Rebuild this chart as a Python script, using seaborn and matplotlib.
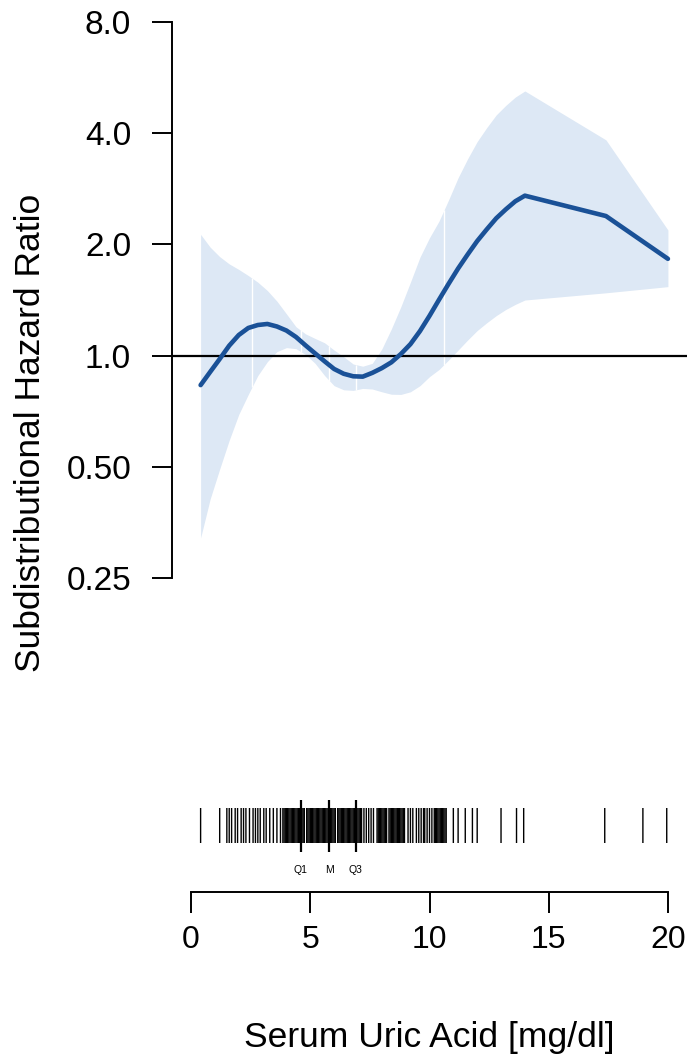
import numpy as np
import matplotlib
matplotlib.use("Agg")
import matplotlib.pyplot as plt
import seaborn as sns

sns.set_style("white")
plt.rcParams["font.family"] = ["Liberation Sans", "DejaVu Sans"]
plt.rcParams["text.color"] = "black"
plt.rcParams["axes.labelcolor"] = "black"
plt.rcParams["xtick.color"] = "black"
plt.rcParams["ytick.color"] = "black"

# Fitted subdistribution hazard ratio with 95% confidence band
uric_acid = [0.4, 0.8, 1.2, 1.6, 2.0, 2.4, 2.8, 3.2, 3.6, 4.0, 4.4, 4.8, 5.2, 5.6,
             6.0, 6.4, 6.8, 7.2, 7.6, 8.0, 8.4, 8.8, 9.2, 9.6, 10.0, 10.4, 10.8,
             11.2, 11.6, 12.0, 12.4, 12.8, 13.2, 13.6, 14.0, 17.4, 20.0]
shr = [0.832, 0.903, 0.979, 1.064, 1.137, 1.188, 1.210, 1.218, 1.199, 1.169,
       1.123, 1.066, 1.014, 0.965, 0.920, 0.893, 0.879, 0.877, 0.898, 0.925,
       0.959, 1.010, 1.074, 1.165, 1.281, 1.417, 1.564, 1.721, 1.878, 2.042,
       2.196, 2.354, 2.488, 2.617, 2.710, 2.387, 1.828]
shr_upper = [2.129, 1.966, 1.853, 1.771, 1.711, 1.647, 1.580, 1.500, 1.404, 1.297,
             1.197, 1.145, 1.113, 1.083, 1.035, 0.993, 0.949, 0.936, 0.953, 1.042,
             1.181, 1.357, 1.580, 1.847, 2.085, 2.313, 2.639, 3.031, 3.411, 3.797,
             4.141, 4.484, 4.757, 5.011, 5.205, 3.837, 2.188]
shr_lower = [0.321, 0.409, 0.493, 0.590, 0.693, 0.785, 0.883, 0.963, 1.025, 1.051,
             1.044, 1.007, 0.953, 0.883, 0.829, 0.808, 0.805, 0.815, 0.812, 0.798,
             0.786, 0.785, 0.798, 0.829, 0.877, 0.917, 0.973, 1.035, 1.102, 1.169,
             1.227, 1.283, 1.333, 1.376, 1.414, 1.479, 1.537]

# Spline knot locations (seams in the confidence band)
knots = [2.55, 4.6, 5.8, 6.9, 10.6]

# Observed serum uric acid values (rug)
rug_values = [0.4, 1.2, 1.5, 1.6, 1.7, 1.85, 1.95, 2.1, 2.2, 2.3, 2.45, 2.6, 2.7,
              2.8, 2.9, 3.05, 3.15, 3.3, 3.45, 3.6, 3.75,
              3.85, 3.9, 3.95, 4.0, 4.05, 4.1, 4.15, 4.2, 4.25, 4.3, 4.35, 4.4,
              4.45, 4.5, 4.55, 4.6, 4.65, 4.7, 4.75,
              4.85, 4.9, 4.95, 5.0, 5.05, 5.1, 5.15, 5.2, 5.25, 5.3, 5.35, 5.4,
              5.45, 5.5, 5.55, 5.6, 5.65, 5.7, 5.75, 5.8, 5.85, 5.9, 5.95, 6.0, 6.05,
              6.15, 6.2, 6.25, 6.3, 6.35, 6.4, 6.45, 6.5, 6.55, 6.6, 6.65, 6.7,
              6.75, 6.8, 6.85, 6.9, 6.95, 7.0, 7.05, 7.1, 7.15,
              7.25, 7.35, 7.45, 7.55, 7.65,
              7.8, 7.85, 7.9, 7.95, 8.0, 8.05, 8.1, 8.15, 8.2,
              8.3, 8.35, 8.4, 8.45, 8.5, 8.55, 8.6, 8.65, 8.7, 8.75, 8.8, 8.85,
              8.9, 8.95,
              9.1, 9.2, 9.3, 9.45, 9.55, 9.65, 9.75, 9.8, 9.9, 10.0, 10.1,
              10.2, 10.25, 10.3, 10.35, 10.4, 10.45, 10.5, 10.55, 10.6, 10.65,
              10.7, 11.0, 11.2, 11.5, 11.8, 12.0,
              13.0, 13.65, 13.95, 17.35, 18.95, 19.95]

quartiles = [4.6, 5.8, 6.9]
quartile_labels = ["Q1", "M", "Q3"]

y_ticks = [0.25, 0.5, 1.0, 2.0, 4.0, 8.0]
y_tick_labels = ["0.25", "0.50", "1.0", "2.0", "4.0", "8.0"]
x_ticks = [0, 5, 10, 15, 20]

W, H = 688, 1056
fig = plt.figure(figsize=(W / 100, H / 100), dpi=100)
XLIM = (-0.8, 20.8)
left, width = 172 / W, 515 / W

line_color = "#1A5197"
band_color = "#DDE8F5"

# ---- main panel -------------------------------------------------------
ax = fig.add_axes([left, 1 - 578 / H, width, 556 / H])
ax.set_yscale("log", base=2)
ax.set_xlim(*XLIM)
ax.set_ylim(0.25, 8)

ax.fill_between(uric_acid, shr_lower, shr_upper, color=band_color, lw=0, zorder=1)
log_lo = np.log(shr_lower)
log_hi = np.log(shr_upper)
k_lo = np.exp(np.interp(knots, uric_acid, log_lo))
k_hi = np.exp(np.interp(knots, uric_acid, log_hi))
ax.vlines(knots, k_lo, k_hi, color="white", lw=1.0, zorder=2)

ax.axhline(1.0, color="black", lw=1.6, zorder=3)
sns.lineplot(x=uric_acid, y=shr, ax=ax, color=line_color, lw=3.3,
             sort=False, zorder=4)

for side in ["top", "right", "bottom"]:
    ax.spines[side].set_visible(False)
ax.spines["left"].set_bounds(0.25, 8)
ax.spines["left"].set_linewidth(1.4)
ax.spines["left"].set_color("black")
ax.set_yticks(y_ticks)
ax.set_yticklabels(y_tick_labels)
ax.yaxis.set_minor_locator(matplotlib.ticker.NullLocator())
ax.tick_params(axis="y", which="major", length=14.5, width=1.4, color="black",
               labelcolor="black", pad=15, labelsize=24, left=True,
               direction="out")
ax.set_xticks([])
ax.set_xlabel("")
ax.set_ylabel("")
ax.patch.set_alpha(0)

fig.text(31 / W, 1 - 433 / H, "Subdistributional Hazard Ratio", rotation=90,
         ha="center", va="center", fontsize=25.5, color="black")

# ---- rug panel ---------------------------------------------------------
ax_r = fig.add_axes([left, 1 - 843 / H, width, 35 / H])
ax_r.set_xlim(*XLIM)
ax_r.set_ylim(0, 1)
sns.rugplot(x=rug_values, ax=ax_r, height=1, color="black", lw=1.4,
            expand_margins=False)
for coll in ax_r.collections:
    coll.set_snap(False)
ax_r.vlines(quartiles, -9 / 35, 1 + 8 / 35, color="black", lw=1.6, clip_on=False)
for q, lab in zip(quartiles, quartile_labels):
    ax_r.text(q, -27 / 35, lab, ha="center", va="center", fontsize=7.5,
              color="black")
ax_r.set_axis_off()

# ---- x axis ------------------------------------------------------------
ax_x = fig.add_axes([left, 1 - 892 / H, width, 20 / H])
ax_x.set_xlim(*XLIM)
ax_x.patch.set_alpha(0)
for side in ["top", "right", "left"]:
    ax_x.spines[side].set_visible(False)
ax_x.spines["bottom"].set_bounds(0, 20)
ax_x.spines["bottom"].set_linewidth(1.4)
ax_x.spines["bottom"].set_color("black")
ax_x.set_yticks([])
ax_x.set_xticks(x_ticks)
ax_x.set_xticklabels([str(t) for t in x_ticks])
ax_x.tick_params(axis="x", length=15, width=1.4, pad=9, labelsize=23,
                 color="black", labelcolor="black", bottom=True,
                 direction="out")

fig.text(429 / W, 1 - 1047 / H, "Serum Uric Acid [mg/dl]", ha="center",
         va="baseline", fontsize=25.5, color="black")

fig.savefig("out.png", dpi=100, facecolor="white")
